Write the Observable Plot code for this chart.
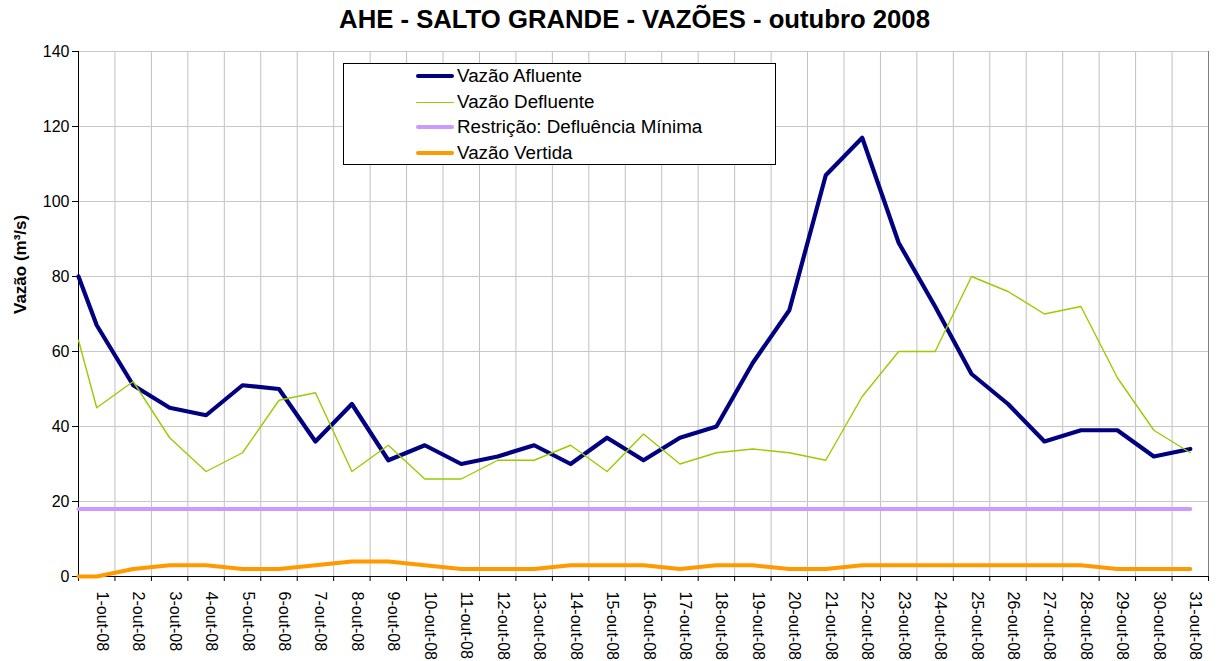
<!DOCTYPE html>
<html>
<head>
<meta charset="utf-8">
<script src="https://cdn.jsdelivr.net/npm/d3@7"></script>
<script src="https://cdn.jsdelivr.net/npm/@observablehq/plot@0.6"></script>
<style>
  body { margin: 0; background: white; font-family: "Liberation Sans", Arial, sans-serif; }
  #wrap { position: relative; width: 1217px; height: 661px; }
  #legend { position: absolute; left: 343px; top: 63px; width: 433px; height: 102px; box-sizing: border-box;
            border: 1px solid #000; background: white; }
  .row { position: absolute; left: 0; height: 0; }
  .sw { position: absolute; left: 72px; width: 38px; border-radius: 2px; }
  .lbl { position: absolute; left: 113px; font-size: 18.8px; line-height: 22px; white-space: nowrap; color: #000; }
</style>
</head>
<body>
<div id="wrap"></div>
<script>
const title = "AHE - SALTO GRANDE - VAZÕES - outubro 2008";
const yLabel = "Vazão (m³/s)";
const dayLabels = ["1-out-08","2-out-08","3-out-08","4-out-08","5-out-08","6-out-08","7-out-08","8-out-08","9-out-08","10-out-08",
  "11-out-08","12-out-08","13-out-08","14-out-08","15-out-08","16-out-08","17-out-08","18-out-08","19-out-08","20-out-08",
  "21-out-08","22-out-08","23-out-08","24-out-08","25-out-08","26-out-08","27-out-08","28-out-08","29-out-08","30-out-08","31-out-08"];
const yTicks = [0, 20, 40, 60, 80, 100, 120, 140];
// first value of each series sits on the left edge of the plot (start of the period), then days 1..31
const seriesNames = ["Vazão Afluente", "Vazão Defluente", "Restrição: Defluência Mínima", "Vazão Vertida"];
const afluente  = [80, 67, 51, 45, 43, 51, 50, 36, 46, 31, 35, 30, 32, 35, 30, 37, 31, 37, 40, 57, 71, 107, 117, 89, 72, 54, 46, 36, 39, 39, 32, 34];
const defluente = [63, 45, 52, 37, 28, 33, 47, 49, 28, 35, 26, 26, 31, 31, 35, 28, 38, 30, 33, 34, 33, 31, 48, 60, 60, 80, 76, 70, 72, 53, 39, 33];
const restricao = [18, 18, 18, 18, 18, 18, 18, 18, 18, 18, 18, 18, 18, 18, 18, 18, 18, 18, 18, 18, 18, 18, 18, 18, 18, 18, 18, 18, 18, 18, 18, 18];
const vertida   = [0, 0, 2, 3, 3, 2, 2, 3, 4, 4, 3, 2, 2, 2, 3, 3, 3, 2, 3, 3, 2, 2, 3, 3, 3, 3, 3, 3, 3, 2, 2, 2];
const colors = ["#000080", "#99cc00", "#cc99ff", "#ff9900"];
const widths = [4.2, 1.4, 4, 4];

const days = d3.range(1, dayLabels.length + 1);
const xs = [0.5, ...days];            // edge start + day centres
const bounds = d3.range(0.5, dayLabels.length + 1, 1); // category boundaries
const allSeries = [afluente, defluente, restricao, vertida];
const rows = (vals) => vals.map((v, i) => ({x: xs[i], y: v}));

const font = "'Liberation Sans', Arial, sans-serif";
const drawOrder = [2, 3, 0, 1];

const chart = Plot.plot({
  width: 1217, height: 661,
  marginTop: 51, marginLeft: 78, marginRight: 9, marginBottom: 85,
  x: {domain: [0.5, dayLabels.length + 0.5]},
  y: {domain: [0, 140]},
  style: {fontFamily: font, fontSize: "16px", color: "#000", background: "white", overflow: "visible"},
  marks: [
    Plot.gridX(bounds, {stroke: "#c0c0c0", strokeOpacity: 1, strokeWidth: 1}),
    Plot.gridY(yTicks, {stroke: "#c8c8c8", strokeOpacity: 1, strokeWidth: 1}),
    Plot.ruleX([dayLabels.length + 0.5], {stroke: "#808080", strokeWidth: 1}),
    Plot.axisY(yTicks, {tickSize: 6, tickPadding: 3, fontSize: 16, label: null}),
    Plot.axisX(bounds, {tickSize: 5, tickFormat: () => "", label: null}),
    Plot.ruleX([0.5], {stroke: "#000", strokeWidth: 1}),
    Plot.ruleY([0], {stroke: "#000", strokeWidth: 1}),
    ...drawOrder.map(k => Plot.line(rows(allSeries[k]), {x: "x", y: "y", stroke: colors[k], strokeWidth: widths[k]})),
    Plot.text(days, {x: d => d, text: (d, i) => dayLabels[i], frameAnchor: "bottom", rotate: 90, textAnchor: "start", dy: 15, fontSize: 16}),
    Plot.text([yLabel], {frameAnchor: "left", rotate: -90, dx: -58, fontSize: 17, fontWeight: "bold"}),
    Plot.text([title], {frameAnchor: "top", dy: -24, dx: -9, fontSize: 25.7, fontWeight: "bold", lineAnchor: "bottom"})
  ]
});
const wrap = document.getElementById("wrap");
chart.style.position = "absolute";
chart.style.left = "0px";
chart.style.top = "0px";
wrap.appendChild(chart);

// legend
const legend = document.createElement("div");
legend.id = "legend";
const rowY = [12.7, 39.3, 64.3, 90.3];
seriesNames.forEach((name, i) => {
  const r = document.createElement("div");
  r.className = "row";
  r.style.top = (rowY[i] - 1) + "px";
  const sw = document.createElement("div");
  sw.className = "sw";
  sw.style.height = widths[i] + "px";
  sw.style.top = (-widths[i] / 2) + "px";
  sw.style.background = colors[i];
  const t = document.createElement("div");
  t.className = "lbl";
  t.style.top = "-11px";
  t.textContent = name;
  r.appendChild(sw); r.appendChild(t);
  legend.appendChild(r);
});
wrap.appendChild(legend);
</script>
</body>
</html>
